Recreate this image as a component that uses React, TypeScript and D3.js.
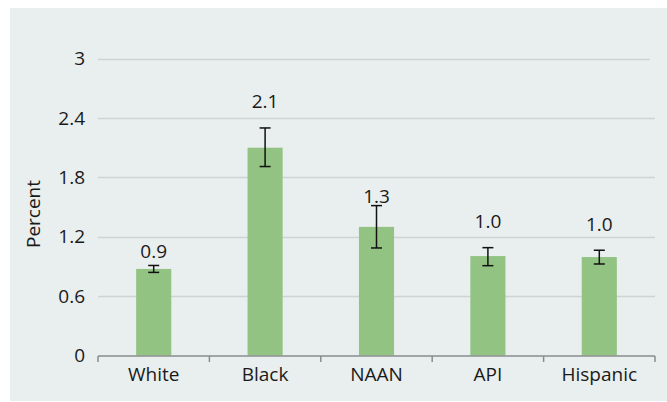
import React from "react";
import * as d3 from "d3";

const categories = ["White", "Black", "NAAN", "API", "Hispanic"];
const values = [0.875, 2.1, 1.3, 1.005, 0.995];
const errLow = [0.84, 1.91, 1.087, 0.908, 0.925];
const errHigh = [0.91, 2.3, 1.515, 1.09, 1.064];
const labels = ["0.9", "2.1", "1.3", "1.0", "1.0"];
const labelAt = [0.99, 2.5, 1.546, 1.293, 1.263];
const yTicks = [0, 0.6, 1.2, 1.8, 2.4, 3];

const W = 667;
const H = 402;
const FONT = "'Open Sans', 'Noto Sans', sans-serif";

export default function App() {
  const x = d3.scaleBand<string>().domain(categories).range([98, 655]).paddingInner(0).paddingOuter(0);
  const y = d3.scaleLinear().domain([0, 3]).range([355.5, 58.7]);
  const barW = x.bandwidth() * 0.315;
  const cap = 5.5;

  return (
    <svg
      width={W}
      height={H}
      style={{ position: "absolute", left: 0, top: 0, display: "block" }}
    >
      <rect x={0} y={0} width={W} height={H} fill="#ffffff" />
      <rect x={10} y={8} width={W - 10} height={393} fill="#e9eeee" />
      {yTicks.filter((t) => t > 0).map((t) => (
        <line
          key={"g" + t}
          x1={98}
          x2={t === 3 ? 650 : 655}
          y1={Math.round(y(t)) + 0.5}
          y2={Math.round(y(t)) + 0.5}
          stroke="#cfd3d4"
          strokeWidth={1.5}
        />
      ))}
      {yTicks.map((t) => (
        <text
          key={"t" + t}
          x={85}
          y={y(t)}
          dy="0.35em"
          textAnchor="end"
          fontFamily={FONT}
          fontSize={19}
          fill="#1a1a1a"
        >
          {String(t)}
        </text>
      ))}
      <text
        transform={`translate(40,214) rotate(-90)`}
        textAnchor="middle"
        fontFamily={FONT}
        fontSize={19}
        fill="#1a1a1a"
      >
        Percent
      </text>
      {categories.map((c, i) => {
        const cx = (x(c) as number) + x.bandwidth() / 2;
        return (
          <g key={c}>
            <rect
              x={cx - barW / 2}
              y={y(values[i])}
              width={barW}
              height={y(0) - y(values[i])}
              fill="#92c383"
            />
            <line x1={cx} x2={cx} y1={y(errHigh[i])} y2={y(errLow[i])} stroke="#111" strokeWidth={1.5} />
            <line x1={cx - cap} x2={cx + cap} y1={y(errHigh[i])} y2={y(errHigh[i])} stroke="#111" strokeWidth={1.5} />
            <line x1={cx - cap} x2={cx + cap} y1={y(errLow[i])} y2={y(errLow[i])} stroke="#111" strokeWidth={1.5} />
            <text
              x={cx}
              y={y(labelAt[i])}
              textAnchor="middle"
              fontFamily={FONT}
              fontSize={19}
              fill="#1a1a1a"
            >
              {labels[i]}
            </text>
            <text
              x={cx}
              y={381}
              textAnchor="middle"
              fontFamily={FONT}
              fontSize={19}
              fill="#1a1a1a"
            >
              {c}
            </text>
          </g>
        );
      })}
      <line x1={98} x2={655} y1={356} y2={356} stroke="#8a8c8d" strokeWidth={1.5} />
      {categories.concat([""]).map((c, i) => {
        const px = 98 + i * x.step();
        return (
          <line key={"tk" + i} x1={px} x2={px} y1={356} y2={362} stroke="#8a8c8d" strokeWidth={1.5} />
        );
      })}
    </svg>
  );
}
